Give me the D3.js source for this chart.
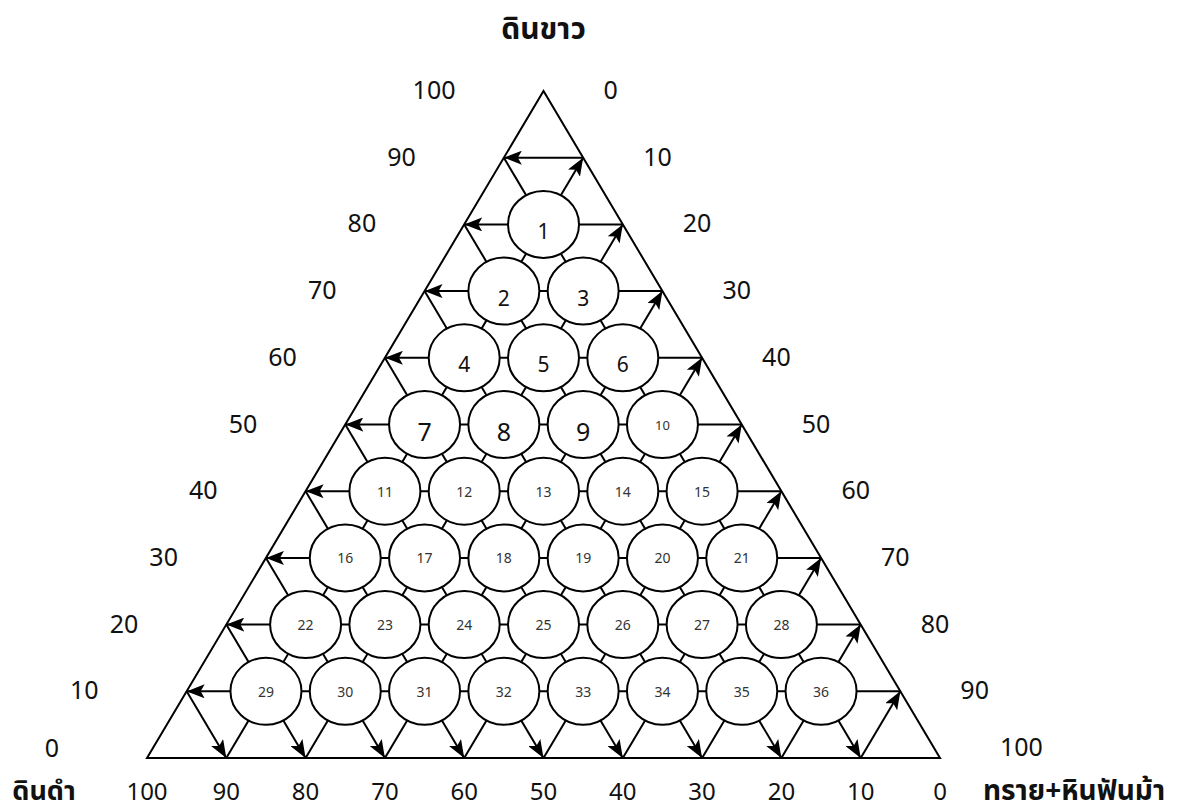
<!DOCTYPE html>
<html>
<head>
<meta charset="utf-8">
<script src="https://cdn.jsdelivr.net/npm/d3@7"></script>
<style>
  body { margin: 0; background: #fff; }
  text { font-family: "Noto Sans Thai", "Noto Sans", "DejaVu Sans", sans-serif; fill: #111; }
</style>
</head>
<body>
<div id="chart"></div>
<script>
// tick labels along each side (percent)
var tickValues = [0, 10, 20, 30, 40, 50, 60, 70, 80, 90, 100];
// interior grid levels that carry an arrow
var gridLevels = [10, 20, 30, 40, 50, 60, 70, 80, 90];

// sample points 1..36 : composition in percent
var sampleIds = [1, 2, 3, 4, 5, 6, 7, 8, 9, 10, 11, 12, 13, 14, 15, 16, 17, 18,
    19, 20, 21, 22, 23, 24, 25, 26, 27, 28, 29, 30, 31, 32, 33, 34, 35, 36];
var whiteClay = [80, 70, 70, 60, 60, 60, 50, 50, 50, 50, 40, 40, 40, 40, 40,
    30, 30, 30, 30, 30, 30, 20, 20, 20, 20, 20, 20, 20, 10, 10, 10, 10, 10, 10, 10, 10];
var blackClay = [10, 20, 10, 30, 20, 10, 40, 30, 20, 10, 50, 40, 30, 20, 10,
    60, 50, 40, 30, 20, 10, 70, 60, 50, 40, 30, 20, 10, 80, 70, 60, 50, 40, 30, 20, 10];
var sandFeldspar = [10, 10, 20, 10, 20, 30, 10, 20, 30, 40, 10, 20, 30, 40, 50,
    10, 20, 30, 40, 50, 60, 10, 20, 30, 40, 50, 60, 70, 10, 20, 30, 40, 50, 60, 70, 80];

var topTitle = "ดินขาว";
var leftTitle = "ดินดำ";
var rightTitle = "ทราย+หินฟันม้า";

var width = 1187, height = 811;

var svg = d3.select("#chart").append("svg")
    .attr("width", width)
    .attr("height", height);

// x runs along the base (sand share), y is the white clay share
var x = d3.scaleLinear().domain([0, 100]).range([147, 940]);
var y = d3.scaleLinear().domain([0, 100]).range([758, 91]);

function pt(white, sand) {
    return [x(sand + white / 2), y(white)];
}

svg.append("defs").append("marker")
    .attr("id", "arrow")
    .attr("viewBox", "0 0 18 14")
    .attr("refX", 18)
    .attr("refY", 7)
    .attr("markerWidth", 18)
    .attr("markerHeight", 14)
    .attr("markerUnits", "userSpaceOnUse")
    .attr("orient", "auto")
    .append("path")
    .attr("d", "M0,0 L18,7 L0,14 L4,7 Z")
    .attr("fill", "#000");

var line = d3.line();
var grid = svg.append("g")
    .attr("fill", "none")
    .attr("stroke", "#000")
    .attr("stroke-width", 2);

// constant white clay: horizontal, arrow to the left side
grid.selectAll(".hw").data(gridLevels).enter().append("path")
    .attr("d", function (k) { return line([pt(k, 100 - k), pt(k, 0)]); })
    .attr("marker-end", "url(#arrow)");

// constant sand: from the base up to the right side
grid.selectAll(".hs").data(gridLevels).enter().append("path")
    .attr("d", function (k) { return line([pt(0, k), pt(100 - k, k)]); })
    .attr("marker-end", "url(#arrow)");

// constant black clay: from the left side down to the base
grid.selectAll(".hb").data(gridLevels).enter().append("path")
    .attr("d", function (k) { return line([pt(100 - k, 0), pt(0, 100 - k)]); })
    .attr("marker-end", "url(#arrow)");

// outline of the triangle
grid.append("path")
    .attr("d", line([pt(100, 0), pt(0, 0), pt(0, 100)]) + "Z");

// sample circles
var samples = sampleIds.map(function (id, i) {
    return { id: id, white: whiteClay[i], black: blackClay[i], sand: sandFeldspar[i] };
});

var node = svg.selectAll(".sample").data(samples).enter().append("g")
    .attr("class", "sample")
    .attr("transform", function (d) { return "translate(" + pt(d.white, d.sand) + ")"; });

node.append("ellipse")
    .attr("rx", 35.5)
    .attr("ry", 33.5)
    .attr("fill", "#fff")
    .attr("stroke", "#000")
    .attr("stroke-width", 2);

node.append("text")
    .attr("text-anchor", "middle")
    .attr("dominant-baseline", "central")
    .attr("dy", function (d) { return d.id <= 9 ? 8 : 1; })
    .style("font-size", function (d) {
        if (d.id <= 6) return "21px";
        if (d.id <= 9) return "25px";
        if (d.id === 10) return "13px";
        return "14px";
    })
    .style("fill", function (d) { return d.id <= 9 ? "#111" : "#333"; })
    .text(function (d) { return d.id; });

// tick labels: white clay on the left side (the base label sits a bit higher)
svg.selectAll(".tl").data(tickValues).enter().append("text")
    .attr("x", function (v) { return pt(v, 0)[0] - 88; })
    .attr("y", function (v) { return pt(v, 0)[1] - (v === 0 ? 9 : 0); })
    .attr("text-anchor", "end")
    .attr("dominant-baseline", "central")
    .style("font-size", "25px")
    .text(function (v) { return v; });

// sand on the right side
svg.selectAll(".tr").data(tickValues).enter().append("text")
    .attr("x", function (v) { return pt(100 - v, v)[0] + 60; })
    .attr("y", function (v) { return pt(100 - v, v)[1] - (v === 100 ? 10 : 0); })
    .attr("text-anchor", "start")
    .attr("dominant-baseline", "central")
    .style("font-size", "25px")
    .text(function (v) { return v; });

// black clay along the base
svg.selectAll(".tb").data(tickValues).enter().append("text")
    .attr("x", function (v) { return pt(0, 100 - v)[0]; })
    .attr("y", 793)
    .attr("text-anchor", "middle")
    .attr("dominant-baseline", "central")
    .style("font-size", "24px")
    .text(function (v) { return v; });

// axis titles
svg.append("text")
    .attr("x", x(50)).attr("y", 30)
    .attr("text-anchor", "middle")
    .attr("dominant-baseline", "central")
    .style("font-size", "30px").style("font-weight", "bold")
    .text(topTitle);

svg.append("text")
    .attr("x", 44).attr("y", 791)
    .attr("text-anchor", "middle")
    .attr("dominant-baseline", "central")
    .style("font-size", "27px").style("font-weight", "bold")
    .text(leftTitle);

svg.append("text")
    .attr("x", 983).attr("y", 791)
    .attr("text-anchor", "start")
    .attr("dominant-baseline", "central")
    .style("font-size", "28px").style("font-weight", "bold")
    .text(rightTitle);
</script>
</body>
</html>
